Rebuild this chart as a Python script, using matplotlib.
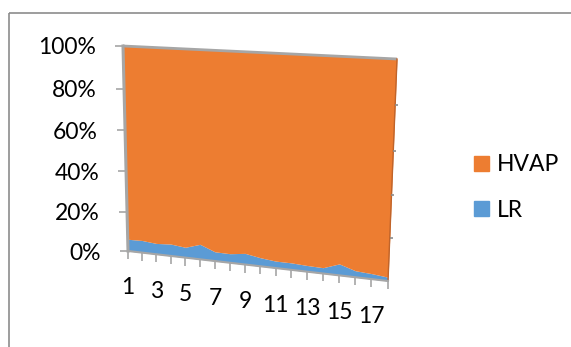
import numpy as np
import matplotlib
matplotlib.use("Agg")
import matplotlib.pyplot as plt
import matplotlib.transforms as mtransforms
from matplotlib.patches import Patch, Rectangle

# ── Data ──────────────────────────────────
categories = list(range(1, 19))
lr = [6.0, 6.2, 5.5, 6.0, 5.2, 7.5, 4.6, 4.5, 5.5, 4.2, 3.4, 3.4, 3.0, 2.8, 5.5, 3.1, 2.6, 1.8]
hvap = [94.0, 93.8, 94.5, 94.0, 94.8, 92.5, 95.4, 95.5, 94.5, 95.8, 96.6, 96.6, 97.0, 97.2, 94.5, 96.9, 97.4, 98.2]
y_ticks = [0, 20, 40, 60, 80, 100]
y_labels = ["0%", "20%", "40%", "60%", "80%", "100%"]
x_labels = [str(c) for c in categories[::2]]

ORANGE = "#ED7D31"
BLUE = "#5B9BD5"
GRAY = "#A6A6A6"

# ── Perspective of the 3D plot face (image pixels) ──
W, H = 571, 347
corners_unit = [(0, 0), (1, 0), (1, 1), (0, 1)]
corners_px = [(128, 251), (388, 281), (397, 59), (123, 46)]


def homography(src, dst):
    A, b = [], []
    for (u, v), (X, Y) in zip(src, dst):
        A.append([u, v, 1, 0, 0, 0, -u * X, -v * X]); b.append(X)
        A.append([0, 0, 0, u, v, 1, -u * Y, -v * Y]); b.append(Y)
    h = np.linalg.solve(np.array(A, float), np.array(b, float))
    return np.append(h, 1).reshape(3, 3)


class Persp(mtransforms.Transform):
    input_dims = output_dims = 2

    def __init__(self, M):
        super().__init__()
        self.M = M

    def transform_non_affine(self, xy):
        xy = np.asarray(xy, float).reshape(-1, 2)
        p = np.column_stack([xy, np.ones(len(xy))]) @ self.M.T
        return p[:, :2] / p[:, 2:3]


fig = plt.figure(figsize=(W / 100, H / 100), dpi=100)
ax = fig.add_axes([0, 0, 1, 1])
ax.set_xlim(0, W)
ax.set_ylim(H, 0)
ax.set_autoscale_on(False)
ax.axis("off")

n = len(categories)
T = (mtransforms.Affine2D().translate(-1, 0).scale(1 / (n - 1), 1 / 100)
     + Persp(homography(corners_unit, corners_px)) + ax.transData)

# chart border
ax.add_patch(Rectangle((8.5, 12.5), 600, 400, fill=False, ec="#8C8C8C", lw=1.2))

# ── Areas ─────────────────────────────────
lr_a = np.array(lr)
tot = lr_a + np.array(hvap)
lr_pct = lr_a / tot * 100
ax.fill_between(categories, 0, lr_pct, color=BLUE, lw=0, transform=T)
ax.fill_between(categories, lr_pct, 100, color=ORANGE, lw=0, transform=T)

# edges of the 3D block
ax.plot([1, n], [100, 100], color=GRAY, lw=2, transform=T, solid_capstyle="butt")
ax.plot([1, 1], [0, 100], color=GRAY, lw=2.2, transform=T)
ax.plot([n, n], [0, 100], color="#C0642A", lw=1, transform=T)
ax.plot([1, n], [0, 0], color=GRAY, lw=1.5, transform=T)

# ticks
ax.plot([1] * len(y_ticks), y_ticks, ls="none", marker=0, ms=6, mec=GRAY, mew=1.2, transform=T)
ax.plot(categories, [0] * n, ls="none", marker=3, ms=5.5, mec=GRAY, mew=1.2, transform=T)
ax.plot([n] * 4, y_ticks[1:5], ls="none", marker=1, ms=2.5, mec="#8C8C8C", mew=1.2, transform=T)

plt.rcParams["font.family"] = ["Lato", "DejaVu Sans"]
FS = 16.5

# y labels
T_y = T + mtransforms.Affine2D().translate(-27, -2)
for v, lab in zip(y_ticks, y_labels):
    ax.text(1, v, lab, transform=T_y, ha="right", va="center", fontsize=FS)

# x labels
T_x = T + mtransforms.Affine2D().translate(0, -37)
for c, lab in zip(categories[::2], x_labels):
    ax.text(c, 0, lab, transform=T_x, ha="center", va="center", fontsize=FS)

# legend
handles = [Patch(color=ORANGE, label="HVAP"), Patch(color=BLUE, label="LR")]
fig.legend(handles=handles, loc="upper left", bbox_to_anchor=(463 / W, 1 - 143 / H),
           frameon=False, fontsize=FS, handlelength=0.62, handleheight=0.62,
           handletextpad=0.35, labelspacing=1.05, borderpad=0)

fig.savefig("out.png", dpi=100)
